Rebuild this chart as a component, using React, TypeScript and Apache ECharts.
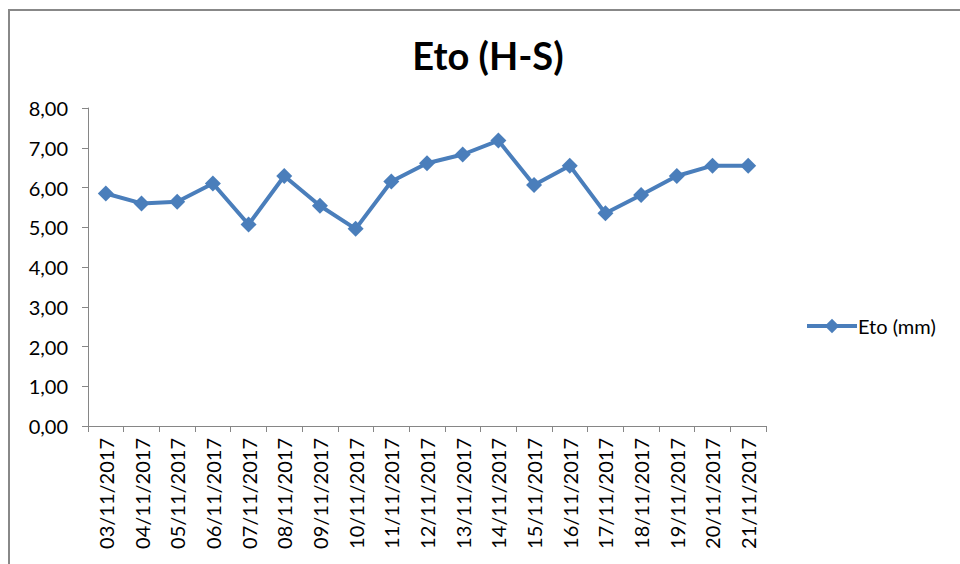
import React, { useEffect, useRef } from "react";
import * as echarts from "echarts";

const categories = [
  "03/11/2017", "04/11/2017", "05/11/2017", "06/11/2017", "07/11/2017",
  "08/11/2017", "09/11/2017", "10/11/2017", "11/11/2017", "12/11/2017",
  "13/11/2017", "14/11/2017", "15/11/2017", "16/11/2017", "17/11/2017",
  "18/11/2017", "19/11/2017", "20/11/2017", "21/11/2017",
];
const etoValues = [
  5.85, 5.6, 5.64, 6.1, 5.07, 6.29, 5.54, 4.96, 6.15, 6.61,
  6.83, 7.18, 6.06, 6.55, 5.35, 5.81, 6.29, 6.55, 6.55,
];
const seriesName = "Eto (mm)";
const titleText = "Eto (H-S)";

const FONT = "Lato, 'Noto Sans', sans-serif";

export default function App() {
  const ref = useRef<HTMLDivElement>(null);
  useEffect(() => {
    if (!ref.current) return;
    const chart = echarts.init(ref.current, undefined, { renderer: "svg" });
    chart.setOption({
      animation: false,
      backgroundColor: "#ffffff",
      textStyle: { fontFamily: FONT },
      title: {
        text: titleText,
        left: 483,
        textAlign: "center",
        top: 31,
        textStyle: { fontFamily: FONT, fontSize: 38, fontWeight: "bold", color: "#000" },
      },
      legend: {
        data: [{ name: seriesName }],
        orient: "vertical",
        left: 800,
        top: 311,
        itemWidth: 50,
        itemHeight: 18,
        itemGap: 4,
        lineStyle: { width: 4 },
        textStyle: { fontFamily: FONT, fontSize: 20, color: "#000", padding: [0, 0, 0, -4] },
      },
      graphic: [
        {
          type: "rect",
          shape: { x: 9, y: 10, width: 1000, height: 600 },
          style: { fill: "none", stroke: "#888888", lineWidth: 2 },
          silent: true,
        },
      ],
      grid: { left: 88, right: 194, top: 108, bottom: 138 },
      xAxis: {
        type: "category",
        data: categories,
        boundaryGap: true,
        axisLine: { lineStyle: { color: "#868686", width: 1 } },
        axisTick: { show: true, alignWithLabel: false, length: 6, lineStyle: { color: "#868686" } },
        axisLabel: {
          rotate: 90,
          interval: 0,
          fontFamily: FONT,
          fontSize: 20,
          color: "#000",
          margin: 12,
        },
        splitLine: { show: false },
      },
      yAxis: {
        type: "value",
        min: 0,
        max: 8,
        interval: 1,
        axisLine: { show: true, lineStyle: { color: "#868686", width: 1 } },
        axisTick: { show: true, length: 6, lineStyle: { color: "#868686" } },
        axisLabel: {
          fontFamily: FONT,
          fontSize: 20,
          color: "#000",
          margin: 20,
          formatter: (v: number) => v.toFixed(2).replace(".", ","),
        },
        splitLine: { show: false },
      },
      series: [
        {
          name: seriesName,
          type: "line",
          data: etoValues,
          symbol: "diamond",
          symbolSize: 16,
          lineStyle: { color: "#4a7ebb", width: 4 },
          itemStyle: { color: "#4a7ebb" },
        },
      ],
    });
    return () => chart.dispose();
  }, []);
  return (
    <div
      ref={ref}
      style={{ position: "fixed", left: 0, top: 0, width: 960, height: 564 }}
    />
  );
}
